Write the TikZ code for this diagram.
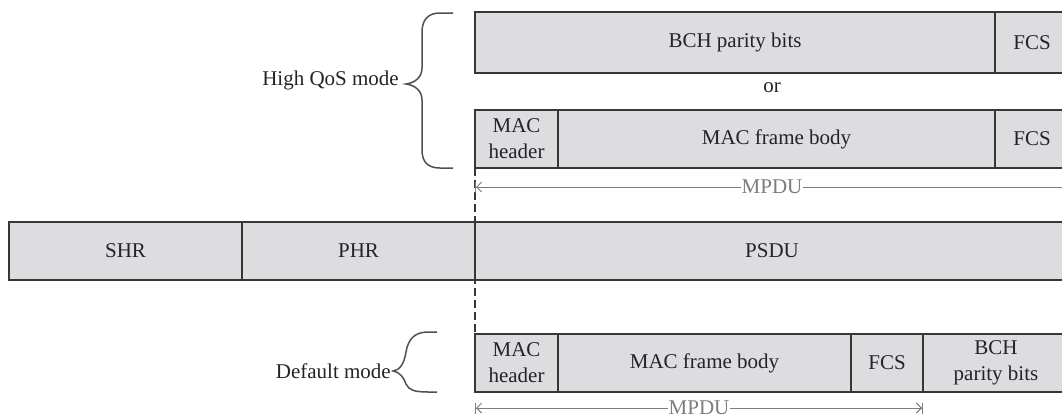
\documentclass[tikz,border=0pt]{standalone}
\usepackage{fontspec}
\setmainfont{Liberation Serif}
\usetikzlibrary{arrows.meta}
\definecolor{cellfill}{RGB}{221,221,223}
\definecolor{edge}{RGB}{55,55,55}
\definecolor{txt}{RGB}{35,35,40}
\definecolor{dim}{RGB}{125,125,125}
\definecolor{bracecol}{RGB}{80,80,80}
\begin{document}
\begin{tikzpicture}[x=1pt,y=-1pt,
  cell/.style={draw=edge, fill=cellfill, line width=1.6pt, anchor=north west,
    inner sep=0pt, outer sep=0pt, align=center, text=txt,
    font=\fontsize{21}{26}\selectfont},
  lbl/.style={text=txt, font=\fontsize{21}{26}\selectfont, inner sep=0pt},
  dimline/.style={draw=dim, line width=1pt,
    {Bar[width=11pt,line width=1pt]Straight Barb[length=5pt,width=10pt,line width=1pt]}-{Straight Barb[length=5pt,width=10pt,line width=1pt]Bar[width=11pt,line width=1pt]}},
  dimlbl/.style={fill=white, text=dim, font=\fontsize{21}{26}\selectfont, inner sep=1pt},
  bracestyle/.style={draw=bracecol, line width=1.5pt},
  guide/.style={draw=edge, line width=1.5pt, dash pattern=on 8pt off 4pt}
]
\useasboundingbox (0,0) rectangle (1062,418);

% dashed guide line
\coordinate (gtop) at (475,168);
\coordinate (gbot) at (475,334);
\draw[guide] (gtop) -- (gbot);

% High QoS row 1
\node[cell, minimum width=520, minimum height=61] (bch1) at (475,12) {BCH parity bits};
\node[cell, minimum width=74, minimum height=61] (fcs1) at (995,12) {FCS};
\node[lbl] (or) at (772,88) {or};

% High QoS row 2
\node[cell, minimum width=83, minimum height=58] (mach1) at (475,110) {MAC\\header};
\node[cell, minimum width=437, minimum height=58] (body1) at (558,110) {MAC frame body};
\node[cell, minimum width=74, minimum height=58] (fcs2) at (995,110) {FCS};

% MPDU (top)
\coordinate (m1a) at (475,187);
\coordinate (m1b) at (1069,187);
\draw[dimline] (m1a) -- node[dimlbl] (mpdu1) {MPDU} (m1b);

% PHY row
\node[cell, minimum width=233, minimum height=58] (shr) at (9,222) {SHR};
\node[cell, minimum width=233, minimum height=58] (phr) at (242,222) {PHR};
\node[cell, minimum width=594, minimum height=58] (psdu) at (475,222) {PSDU};

% Default row
\node[cell, minimum width=83, minimum height=58] (mach2) at (475,334) {MAC\\header};
\node[cell, minimum width=293, minimum height=58] (body2) at (558,334) {MAC frame body};
\node[cell, minimum width=72, minimum height=58] (fcs3) at (851,334) {FCS};
\node[cell, minimum width=146, minimum height=58] (bch2) at (923,334) {BCH\\parity bits};

% MPDU (bottom)
\coordinate (m2a) at (475,408);
\coordinate (m2b) at (923,408);
\draw[dimline] (m2a) -- node[dimlbl] (mpdu2) {MPDU} (m2b);

% High QoS brace
\draw[bracestyle] (453,13) -- (440,13)
  .. controls (428,13) and (422,20) .. (422,32)
  -- (422,68)
  .. controls (422,78) and (414,83) .. (406,84)
  .. controls (414,85) and (422,90) .. (422,100)
  -- (422,150)
  .. controls (422,162) and (428,168) .. (440,168) -- (453,168);
\node[lbl, anchor=east] (hq) at (399,80) {High QoS mode};

% Default brace
\draw[bracestyle] (437,332) -- (428,332)
  .. controls (414,332) and (408,340) .. (406,352)
  .. controls (404,364) and (400,370) .. (393,371)
  .. controls (400,372) and (404,378) .. (406,384)
  .. controls (409,390) and (414,392) .. (428,392) -- (437,392);
\node[lbl, anchor=east] (dm) at (391,371) {Default mode};
\end{tikzpicture}
\end{document}
